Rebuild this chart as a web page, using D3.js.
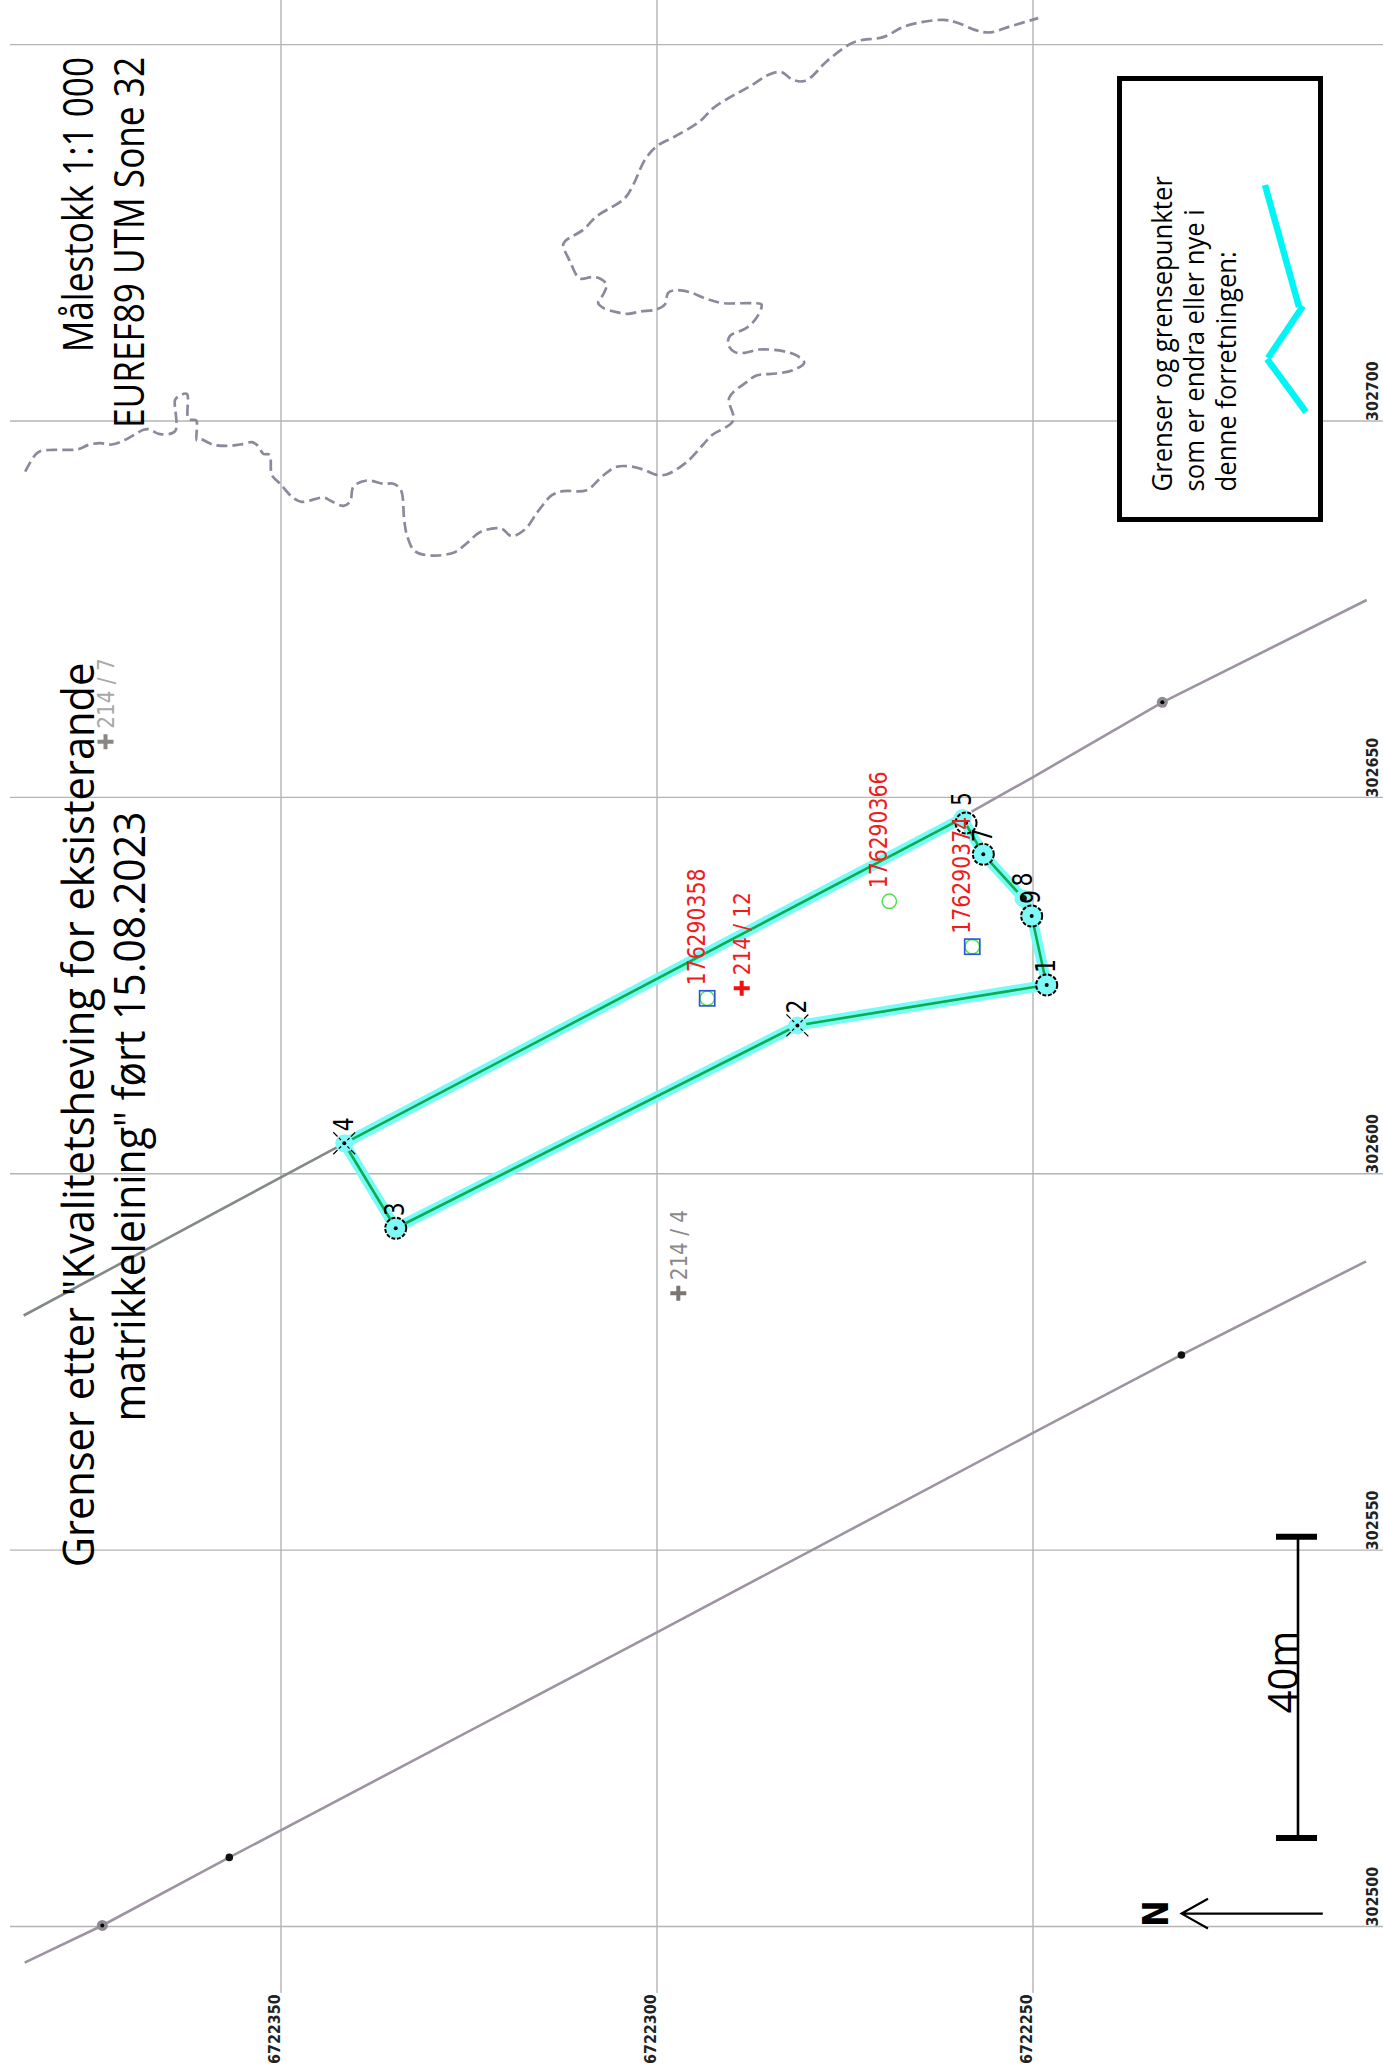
<!DOCTYPE html>
<html>
<head>
<meta charset="utf-8">
<title>Grenser</title>
<script src="https://cdn.jsdelivr.net/npm/d3@7"></script>
<style>
  body { margin: 0; background: #fff; }
  svg { display: block; }
</style>
</head>
<body>
<div id="map"></div>
<script>
// all map values are metres, UTM 32: northing = 6722000 + v, easting = 302000 + v
const northBase = 6722000;
const eastBase = 302000;

const northingTicks = [6722350, 6722300, 6722250];
const eastingTicks = [302500, 302550, 302600, 302650, 302700, 302750];
const eastingLabelMax = 302700;

// grense, in order around the parcel
const boundaryLabels = ['1', '2', '3', '4', '5', '7', '8', '9'];
const boundaryKinds = ['circle', 'x', 'circle', 'x', 'plain', 'circle', 'dot', 'circle'];
const boundaryNorthing = [248.11, 281.26, 334.68, 341.52, 259.31, 256.54, 251.20, 250.11];
const boundaryEasting = [625.01, 619.64, 592.69, 603.98, 647.19, 642.37, 636.50, 634.17];
const extraCircle = [258.84, 646.53];

// the two long neighbour lines
const lineANorthing = [384.15, 341.52];
const lineAEasting = [581.10, 603.98];
const lineA2Northing = [258.09, 249.97, 232.74, 205.56];
const lineA2Easting = [648.03, 652.60, 662.56, 676.15];
const lineBNorthing = [384.02, 373.70, 356.81, 300.07, 249.99, 230.20, 205.65];
const lineBEasting = [495.14, 500.07, 509.11, 538.95, 565.47, 575.86, 588.30];
const greyMarkers = [[232.74, 662.56], [373.70, 500.07]];
const blackMarkers = [[356.81, 509.11], [230.20, 575.86]];

// teigar
const parcelNames = ['214 / 12', '214 / 4', '214 / 7'];
const parcelNorthing = [288.67, 297.10, 373.27];
const parcelEasting = [624.57, 584.05, 657.33];
const parcelColors = ['#f01c1c', '#8a8a8a', '#a8a8a8'];
const plusColors = ['#f01010', '#7c7672', '#8a8684'];

// red ids, last one has only a green circle
const idNames = ['176290358', '176290374', '176290366'];
const idNorthing = [293.26, 258.01, 269.04];
const idEasting = [623.24, 630.10, 636.13];

// strandline
const coastNorthing = [383.95, 382.62, 381.96, 380.19, 376.86, 375.53, 373.98, 372.43, 370.66, 368.22, 367.55, 366.00, 364.01, 364.01, 363.56, 362.46, 362.23, 361.21, 361.13, 360.68, 358.91, 357.14, 355.36, 353.81, 353.15, 352.26, 351.46, 351.15, 350.04, 348.27, 347.16, 344.28, 343.40, 341.62, 340.74, 340.29, 338.52, 336.30, 334.97, 334.00, 333.55, 333.20,
  332.14, 329.92, 326.82, 325.27, 323.49, 321.28, 320.39, 319.28, 317.51, 315.74, 313.96, 312.41, 309.31, 307.09, 305.32, 303.10, 301.55, 300.00, 298.67, 296.01, 293.79, 292.69, 289.80, 290.34, 288.03, 286.70, 284.04, 281.83, 280.36, 281.38, 283.16, 286.26, 288.25, 289.58, 290.47, 290.25, 288.03, 286.70, 286.04, 287.15, 291.13, 293.35, 295.57, 297.34, 298.45, 298.89, 300.00, 302.22, 303.77, 305.32, 307.09, 307.76, 307.09, 306.65, 307.54, 308.64, 310.20, 311.52, 312.41,
  312.06, 309.75, 307.98, 304.21, 303.10, 301.55, 300.00, 297.56, 294.24, 292.46, 290.03, 287.59, 284.93, 283.38, 282.05, 280.72, 279.61, 277.39, 274.29, 272.96, 269.86, 266.76, 261.88, 260.11, 257.45, 255.67, 253.01, 249.25];
const coastEasting = [693.22, 695.44, 695.93, 696.10, 696.19, 696.77, 696.99, 696.81, 697.43, 698.76, 698.85, 698.18, 698.58, 702.75, 703.19, 703.54, 700.18, 700.00, 697.34, 697.52, 696.77, 696.63, 696.81, 697.12, 696.77, 695.57, 695.44, 692.78, 691.59, 689.68, 689.19, 689.77, 689.37, 688.66, 689.24, 691.23, 692.03, 691.59, 691.59, 690.79, 686.80, 684.81,
  682.64, 682.06, 682.51, 683.66, 685.16, 685.70, 685.52, 684.63, 685.52, 687.95, 690.04, 690.61, 690.74, 692.69, 693.84, 693.84, 693.40, 692.78, 692.83, 694.46, 696.81, 698.01, 700.00, 703.01, 705.09, 705.98, 706.24, 706.69, 707.66, 708.64, 709.21, 709.43, 708.99, 709.08, 710.10, 711.20, 712.31, 713.64, 715.41, 715.59, 715.59, 716.16, 717.05, 717.32, 716.96, 715.41, 714.75, 714.48, 714.17, 714.39, 714.97, 715.63, 716.74, 718.07, 718.87, 719.04, 718.87, 721.17, 723.38,
  723.91, 725.33, 727.10, 729.54, 731.31, 734.63, 736.40, 737.73, 739.73, 741.50, 743.05, 744.38, 746.01, 746.28, 745.35, 745.04, 745.48, 747.70, 750.00, 750.49, 750.93, 752.44, 753.23, 752.88, 751.82, 751.55, 752.35, 753.45];

const titleLines = ['Grenser etter "Kvalitetsheving for eksisterande', 'matrikkeleining" ført 15.08.2023'];
const infoLines = ['Målestokk 1:1 000', 'EUREF89 UTM Sone 32'];
const legendLines = ['Grenser og grensepunkter', 'som er endra eller nye i', 'denne forretningen:'];
const scaleBarMetres = 40;
const scaleBarStart = 302551.7;

const width = 1383;
const height = 2067;
const stretch = 1.17; // the picture is wider than true, text too

const xScale = d3.scaleLinear().domain([6722350, 6722250]).range([280.5, 1032.5]);
const yScale = d3.scaleLinear().domain([302500, 302700]).range([1926, 420.5]);
const px = v => xScale(northBase + v);
const py = v => yScale(eastBase + v);

const svg = d3.select('#map').append('svg')
  .attr('width', width)
  .attr('height', height)
  .style('background', '#fff');

// text that reads bottom to top
function vtext(x, y, str, size, opts = {}) {
  return svg.append('text')
    .attr('transform', `translate(${x},${y}) rotate(-90) scale(1,${opts.k || stretch})`)
    .attr('font-family', opts.font || 'DejaVu Sans')
    .attr('font-size', size)
    .attr('font-weight', opts.weight || 'normal')
    .attr('text-anchor', opts.anchor || 'start')
    .attr('fill', opts.fill || '#000')
    .text(str);
}

//////////////////////////////////////////////////////////////
// Grid

const gridBottom = 1993;
const gridLeft = 10;

const xAxis = d3.axisBottom(xScale)
  .tickValues(northingTicks)
  .tickFormat(d3.format('d'))
  .tickSize(-gridBottom);

const yAxis = d3.axisRight(yScale)
  .tickValues(eastingTicks)
  .tickFormat(d => d <= eastingLabelMax ? d3.format('d')(d) : '')
  .tickSize(width - gridLeft);

const gx = svg.append('g').attr('transform', `translate(0,${gridBottom})`).call(xAxis);
const gy = svg.append('g').attr('transform', `translate(${gridLeft},0)`).call(yAxis);

[gx, gy].forEach(g => {
  g.select('.domain').remove();
  g.selectAll('.tick line').attr('stroke', '#b4b4b4').attr('stroke-width', 1.4);
  g.selectAll('.tick text')
    .attr('font-family', 'DejaVu Sans')
    .attr('font-weight', 'bold')
    .attr('font-size', 14.3)
    .attr('fill', '#222')
    .attr('text-anchor', 'start')
    .attr('x', 0).attr('y', 0).attr('dy', 0);
});
gx.selectAll('.tick text').attr('transform', `translate(-1,71) rotate(-90) scale(1,${stretch})`);
// kept a little in from the page edge so the digits are not clipped
gy.selectAll('.tick text').attr('transform', `translate(${width - gridLeft - 5},0) rotate(-90) scale(1,${stretch})`);

//////////////////////////////////////////////////////////////
// Lines

const line = d3.line().x(d => px(d[0])).y(d => py(d[1]));
const zip = (a, b) => a.map((v, i) => [v, b[i]]);

svg.append('path').attr('d', line(zip(lineANorthing, lineAEasting)))
  .attr('fill', 'none').attr('stroke', '#83898a').attr('stroke-width', 2.6);
svg.append('path').attr('d', line(zip(lineA2Northing, lineA2Easting)))
  .attr('fill', 'none').attr('stroke', '#9d93a1').attr('stroke-width', 2.6);
svg.append('path').attr('d', line(zip(lineBNorthing, lineBEasting)))
  .attr('fill', 'none').attr('stroke', '#9d93a1').attr('stroke-width', 2.6);

svg.selectAll('.grey-marker').data(greyMarkers).join('circle')
  .attr('class', 'grey-marker')
  .attr('cx', d => px(d[0])).attr('cy', d => py(d[1])).attr('r', 5.5).attr('fill', '#8e8b93');
svg.selectAll('.grey-dot').data(greyMarkers).join('circle')
  .attr('class', 'grey-dot')
  .attr('cx', d => px(d[0])).attr('cy', d => py(d[1])).attr('r', 2).attr('fill', '#000');
svg.selectAll('.black-marker').data(blackMarkers).join('circle')
  .attr('class', 'black-marker')
  .attr('cx', d => px(d[0])).attr('cy', d => py(d[1])).attr('r', 3.8).attr('fill', '#111');

const coastLine = d3.line().x(d => px(d[0])).y(d => py(d[1])).curve(d3.curveCatmullRom.alpha(0.5));
svg.append('path').attr('d', coastLine(zip(coastNorthing, coastEasting)))
  .attr('fill', 'none')
  .attr('stroke', '#8a8a9c')
  .attr('stroke-width', 2.7)
  .attr('stroke-dasharray', '11 5');

//////////////////////////////////////////////////////////////
// Boundary

const boundary = boundaryLabels.map((label, i) => ({
  label,
  kind: boundaryKinds[i],
  x: px(boundaryNorthing[i]),
  y: py(boundaryEasting[i])
}));
const ring = boundary.concat([boundary[0]]);
const ringLine = d3.line().x(d => d.x).y(d => d.y);

svg.append('path').attr('d', ringLine(ring))
  .attr('fill', 'none').attr('stroke', '#78fbf6').attr('stroke-width', 10.5).attr('stroke-linejoin', 'round');
svg.append('path').attr('d', ringLine(ring))
  .attr('fill', 'none').attr('stroke', '#0aae50').attr('stroke-width', 2.6).attr('stroke-linejoin', 'round');

boundary.forEach(p => {
  svg.append('circle').attr('cx', p.x).attr('cy', p.y)
    .attr('r', p.kind === 'circle' ? 10 : 9).attr('fill', '#7ff9f5');
  if (p.kind === 'circle') {
    svg.append('circle').attr('cx', p.x).attr('cy', p.y).attr('r', 10.5)
      .attr('fill', 'none').attr('stroke', '#000').attr('stroke-width', 2).attr('stroke-dasharray', '4 1.6');
    svg.append('circle').attr('cx', p.x).attr('cy', p.y).attr('r', 2).attr('fill', '#000');
  } else if (p.kind === 'x') {
    [[-11, -11, 11, 11], [-11, 11, 11, -11]].forEach(s => {
      svg.append('line')
        .attr('x1', p.x + s[0]).attr('y1', p.y + s[1]).attr('x2', p.x + s[2]).attr('y2', p.y + s[3])
        .attr('stroke', '#000').attr('stroke-width', 1.2).attr('stroke-dasharray', '6 2 3 9 3 2 6');
    });
    svg.append('circle').attr('cx', p.x).attr('cy', p.y).attr('r', 2).attr('fill', '#000');
  } else if (p.kind === 'dot') {
    svg.append('circle').attr('cx', p.x).attr('cy', p.y).attr('r', 3.4).attr('fill', '#111');
  }
  vtext(p.x + 8.5, p.y - 12, p.label, 22);
});

// punkt like 5 has a second circle a bit off the corner
svg.append('circle').attr('cx', px(extraCircle[0])).attr('cy', py(extraCircle[1])).attr('r', 10.5)
  .attr('fill', 'none').attr('stroke', '#000').attr('stroke-width', 2).attr('stroke-dasharray', '4 1.6');
svg.append('circle').attr('cx', px(extraCircle[0])).attr('cy', py(extraCircle[1])).attr('r', 2).attr('fill', '#000');

//////////////////////////////////////////////////////////////
// Ids and teigar

idNames.forEach((name, i) => {
  const x = px(idNorthing[i]);
  const y = py(idEasting[i]);
  svg.append('circle').attr('cx', x).attr('cy', y).attr('r', 7.2)
    .attr('fill', 'none').attr('stroke', '#52e052').attr('stroke-width', 1.5);
  if (i < 2) {
    svg.append('rect').attr('x', x - 7.6).attr('y', y - 7.6).attr('width', 15.2).attr('height', 15.2)
      .attr('fill', 'none').attr('stroke', '#2f50d8').attr('stroke-width', 1.6);
  }
  vtext(x - 2, y - 13, name, 20.4, { fill: '#f01c1c', k: 1.22 });
});

parcelNames.forEach((name, i) => {
  const x = px(parcelNorthing[i]);
  const y = py(parcelEasting[i]);
  svg.append('path')
    .attr('d', `M${x - 8},${y}H${x + 8}M${x},${y - 7.5}V${y + 7.5}`)
    .attr('stroke', plusColors[i]).attr('stroke-width', 4).attr('fill', 'none');
  vtext(x + 8.3, y - 13, name, 20, { fill: parcelColors[i] });
});

//////////////////////////////////////////////////////////////
// Title and info

const sans = 'Open Sans';
vtext(93.5, 1115, titleLines[0], 41.6, { font: sans, anchor: 'middle', k: 1.05 });
vtext(145, 1116.5, titleLines[1], 40.9, { font: sans, anchor: 'middle', k: 1.06 });
vtext(93, 57, infoLines[0], 35.2, { font: sans, anchor: 'end', k: 1.2 });
vtext(144, 57, infoLines[1], 35.2, { font: sans, anchor: 'end', k: 1.2 });

//////////////////////////////////////////////////////////////
// Legend

svg.append('rect')
  .attr('x', 1119.5).attr('y', 78.5).attr('width', 201).attr('height', 441)
  .attr('fill', '#fff').attr('stroke', '#000').attr('stroke-width', 5);
legendLines.forEach((l, i) => {
  vtext(1172 + i * 32, 491.5, l, 25.7, { font: sans, k: 1.09 });
});
[[1265, 185, 1299, 307], [1303, 306, 1268, 358], [1267, 359, 1306, 412]].forEach(s => {
  svg.append('line')
    .attr('x1', s[0]).attr('y1', s[1]).attr('x2', s[2]).attr('y2', s[3])
    .attr('stroke', '#00f6f6').attr('stroke-width', 6.5);
});

//////////////////////////////////////////////////////////////
// Scale bar and north arrow

const barTop = yScale(scaleBarStart);
const barBottom = yScale(scaleBarStart - scaleBarMetres);
svg.append('line').attr('x1', 1298).attr('x2', 1298).attr('y1', barTop).attr('y2', barBottom)
  .attr('stroke', '#000').attr('stroke-width', 2.6);
[barTop, barBottom].forEach(y => {
  svg.append('line').attr('x1', 1276).attr('x2', 1317).attr('y1', y).attr('y2', y)
    .attr('stroke', '#000').attr('stroke-width', 6);
});
vtext(1298, 1672, scaleBarMetres + 'm', 40, { font: sans, anchor: 'middle', k: 1.05 });

svg.append('path')
  .attr('d', 'M1322.8,1913.6H1181.6M1208,1898.7L1181.6,1913.6L1208,1928.5')
  .attr('fill', 'none').attr('stroke', '#000').attr('stroke-width', 2.2);
vtext(1168, 1913.6, 'N', 32, { font: 'DejaVu Sans', weight: 'bold', anchor: 'middle', k: 1.1 });
</script>
</body>
</html>
